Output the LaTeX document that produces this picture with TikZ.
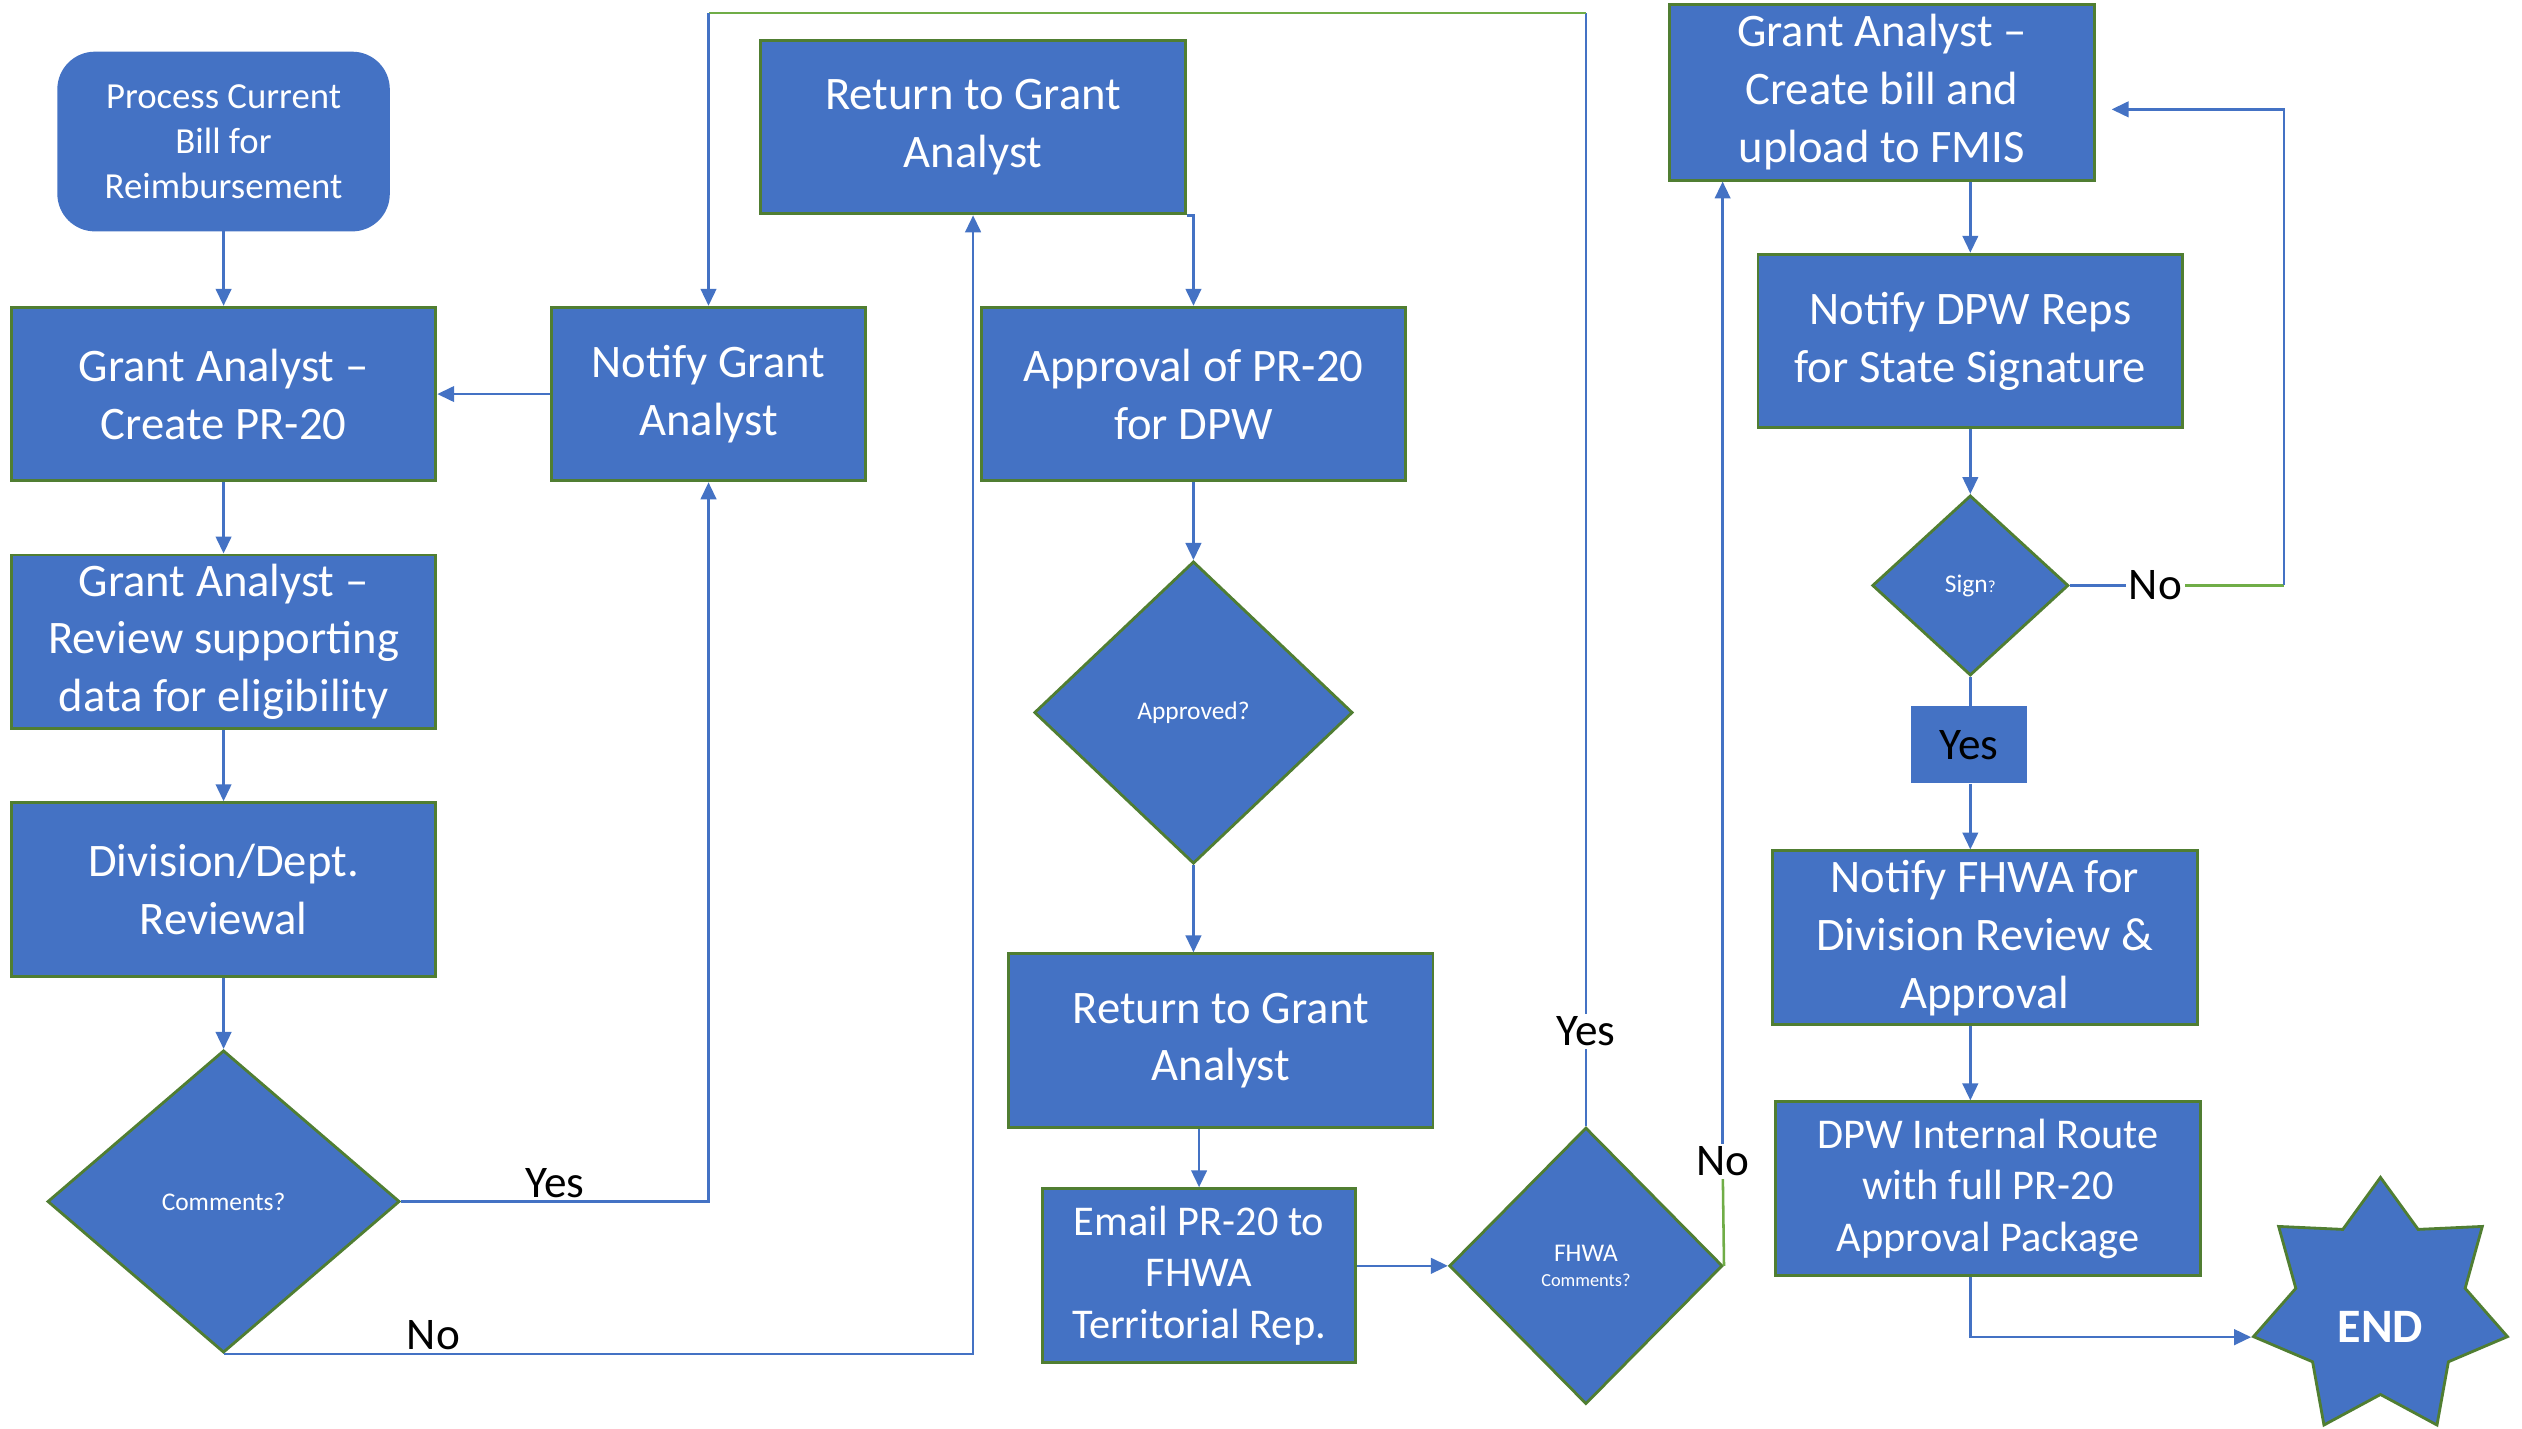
\documentclass[tikz,border=0pt]{standalone}
\usepackage{fontspec}
\setmainfont{Carlito}
\usetikzlibrary{shapes.geometric,arrows.meta}

\definecolor{boxblue}{HTML}{4472C4}
\definecolor{boxedge}{HTML}{507E32}
\definecolor{linkgreen}{HTML}{70AD47}

\tikzset{
  stepbox/.style={draw=boxedge, fill=boxblue, text=white, line width=1pt, align=center,
    inner sep=0pt, minimum width=5.28cm, minimum height=2.16cm, font=\fontsize{16.5}{20.5}\selectfont},
  decide/.style={diamond, draw=boxedge, fill=boxblue, text=white, line width=1pt, align=center,
    inner sep=0pt, font=\fontsize{9}{11}\selectfont},
  link/.style={draw=boxblue, line width=0.9pt},
  greenlink/.style={draw=linkgreen, line width=0.9pt},
  flow/.style={link, -{Triangle[width=5.5pt,length=6pt]}},
  answer/.style={text=black, inner sep=1pt, font=\fontsize{16}{19}\selectfont},
}

\begin{document}
\begin{tikzpicture}[x=0.02cm, y=-0.02cm]

\fill[white] (0,0) rectangle (1568,888);
\useasboundingbox (0,0) rectangle (1568,888);

% left column
\node[stepbox, draw=boxblue, rounded corners=0.45cm, minimum width=4.1cm, minimum height=2.2cm,
  font=\fontsize{13}{16}\selectfont] (start) at (139,88) {Process Current\\Bill for\\Reimbursement};
\node[stepbox] (createpr) at (139,245) {Grant Analyst –\\Create PR-20};
\node[stepbox] (review) at (139,399) {Grant Analyst –\\Review supporting\\data for eligibility};
\node[stepbox] (division) at (139,553) {Division/Dept.\\Reviewal};
\node[decide, minimum width=4.38cm, minimum height=3.76cm] (comments) at (139,747) {Comments?};

% second column
\node[stepbox, minimum width=3.9cm] (notify) at (440.5,245) {Notify Grant\\Analyst};
\node[stepbox] (returnA) at (605,79) {Return to Grant\\Analyst};
\node[stepbox] (approval) at (742,245) {Approval of PR-20\\for DPW};
\node[decide, minimum width=3.96cm, minimum height=3.76cm] (approved) at (742,443) {Approved?};
\node[stepbox] (returnB) at (759,647) {Return to Grant\\Analyst};
\node[stepbox, minimum width=3.9cm, font=\fontsize{15}{18.2}\selectfont] (email) at (745.5,793)
  {Email PR-20 to\\FHWA\\Territorial Rep.};
\node[decide, minimum width=3.4cm, minimum height=3.44cm] (fhwa) at (986,787)
  {FHWA\\[-2pt]{\fontsize{6.5}{8}\selectfont Comments?}};

% right column
\node[stepbox, minimum height=2.18cm] (createbill) at (1170,57.5) {Grant Analyst –\\Create bill and\\upload to FMIS};
\node[stepbox] (dpwreps) at (1225,212) {Notify DPW Reps\\for State Signature};
\node[decide, minimum width=2.44cm, minimum height=2.24cm] (sign) at (1225,364)
  {Sign{\fontsize{6}{7}\selectfont ?}};
\node[fill=boxblue, minimum width=1.44cm, minimum height=0.96cm, inner sep=0pt, answer] (yesbox) at (1224,463) {Yes};
\node[stepbox] (fhwanotify) at (1234,583) {Notify FHWA for\\Division Review \&\\Approval};
\node[stepbox, font=\fontsize{15}{18.2}\selectfont] (internal) at (1236,739)
  {DPW Internal Route\\with full PR-20\\Approval Package};
\node[star, star points=7, star point ratio=1.5, minimum size=3.24cm, inner sep=0pt,
  draw=boxedge, fill=boxblue, line width=1pt,
  label={[yshift=-0.24cm, text=white, font=\bfseries\fontsize{17}{20}\selectfont]center:END}] (finish) at (1480,813) {};

% helper points for the loops
\coordinate (ytop) at (0,8);
\coordinate (fhwano) at (1071,722);
\coordinate (signno) at (1340,364);
\coordinate (signturn) at (1420,68);

% main line
\draw[flow] (start) -- (createpr);
\draw[flow] (createpr) -- (review);
\draw[flow] (review) -- (division);
\draw[flow] (division) -- (comments);
\draw[flow] (notify) -- (createpr);
\draw[flow] (comments.east) -| node[answer, pos=0.25, above]{Yes} (notify.south);
\draw[flow] (comments.south) -| node[answer, pos=0.14, above]{No} (returnA.south);
\draw[flow] (returnA.south east) -| (approval.north);
\draw[flow] (approval) -- (approved);
\draw[flow] (approved.south) -- (approved.south |- returnB.north);
\draw[flow] (email.north |- returnB.south) -- (email.north);
\draw[flow] (fhwa.west -| email.east) -- (fhwa.west);

% fhwa yes: back to notify
\draw[link] (fhwa.north) -- node[answer, fill=white, pos=0.085]{Yes} (fhwa.north |- ytop);
\draw[greenlink] (fhwa.north |- ytop) -- (notify.north |- ytop);
\draw[flow] (notify.north |- ytop) -- (notify.north);

% fhwa no: up to bill
\draw[greenlink] (fhwa.east) -- (fhwano);
\draw[flow] (fhwano) -- (fhwano |- createbill.south);
\node[answer, fill=white] at (fhwano) {No};

% signature
\draw[flow] (dpwreps.north |- createbill.south) -- (dpwreps.north);
\draw[flow] (dpwreps) -- (sign);
\draw[link] (sign.south) -- (sign.south |- yesbox.north);
\draw[flow] (sign.south |- yesbox.south) -- (sign.south |- fhwanotify.north);
\draw[link] (sign.east) -- (signno);
\draw[greenlink] (signno) -- (sign.east -| signturn);
\draw[flow, shorten >=0.2cm] (sign.east -| signturn) -- (signturn) -- (createbill.east |- signturn);
\node[answer, fill=white] at (signno) {No};

\draw[flow] (sign.south |- fhwanotify.south) -- (sign.south |- internal.north);
\draw[flow] (sign.south |- internal.south) |- (finish.outer point 3);

\end{tikzpicture}
\end{document}
